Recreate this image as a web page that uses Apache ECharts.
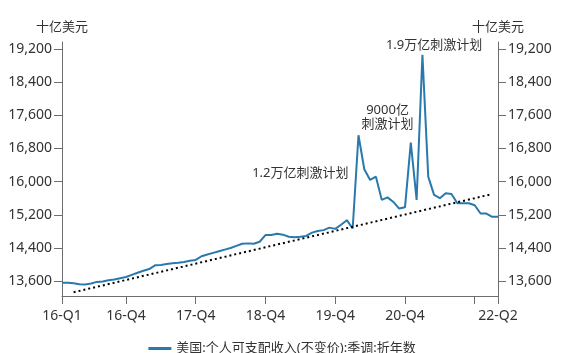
<!DOCTYPE html>
<html>
  <head>
    <meta http-equiv="Content-Type" content="text/html; charset=UTF-8">
    <title></title>
	<style type="text/css">
		* {margin: 0; padding: 0;}
	</style>
  </head>
  <body>
	<div id="chart" style="width:564px;height:353px"></div>

	<script src="https://cdn.jsdelivr.net/npm/echarts@6/dist/echarts.min.js" charset="utf-8"></script>
	<script type="text/javascript">
		// 月度数据 2016-01 ~ 2022-04
		var months = [];
		for (var y = 2016; y <= 2022; y++) {
			for (var m = 1; m <= 12; m++) {
				if (y == 2022 && m > 4) break;
				months.push(y + '-' + (m < 10 ? '0' + m : m));
			}
		}

		var seriesName = '美国:个人可支配收入(不变价):季调:折年数';
		var income = [
			13560, 13560, 13550, 13525, 13520, 13540, 13580, 13590, 13620, 13640, 13670, 13700,
			13750, 13800, 13850, 13890, 13980, 13990, 14010, 14030, 14040, 14060, 14090, 14110,
			14200, 14240, 14280, 14320, 14360, 14400, 14450, 14500, 14510, 14500, 14550, 14710,
			14710, 14740, 14720, 14670, 14660, 14670, 14690, 14770, 14810, 14830, 14890, 14860,
			14960, 15070, 14870, 17120, 16300, 16040, 16120, 15560, 15620, 15510, 15350, 15380,
			16940, 15560, 19060, 16120, 15680, 15600, 15720, 15700, 15480, 15480, 15480, 15430,
			15230, 15230, 15150, 15150
		];

		// 趋势线 两端
		var trendIdx = [2, 74];
		var trendVals = [13330, 15700];

		// x轴刻度
		var tickIdx = [0, 11, 23, 35, 47, 59, 71, 75];
		var tickText = ['16-Q1', '16-Q4', '17-Q4', '18-Q4', '19-Q4', '20-Q4', '', '22-Q2'];

		// y轴刻度
		var yTicks = [13600, 14400, 15200, 16000, 16800, 17600, 18400, 19200];

		// 标注
		var noteIdx = [41, 56, 64];
		var noteVal = [16210, 17550, 19300];
		var noteText = ['1.2万亿刺激计划', '9000亿\n刺激计划', '1.9万亿刺激计划'];

		var trend = [];
		for (var i = 0; i < months.length; i++) trend.push(null);
		trend[trendIdx[0]] = trendVals[0];
		trend[trendIdx[1]] = trendVals[1];

		var notes = [];
		for (var i = 0; i < noteIdx.length; i++) {
			notes.push({coord: [months[noteIdx[i]], noteVal[i]], value: noteText[i]});
		}

		var font = "'Noto Sans', 'Noto Sans CJK SC', sans-serif";
		var textColor = '#333';
		var axisColor = '#6e6e6e';

		function fmt(v) {
			return String(v).replace(/\B(?=(\d{3})+(?!\d))/g, ',');
		}

		function yAxisCfg(pos) {
			return {
				type: 'value',
				position: pos,
				name: '十亿美元',
				nameLocation: 'end',
				nameGap: 8,
				nameTextStyle: {color: textColor, fontSize: 13, fontFamily: font},
				min: 13240,
				max: 19370,
				splitLine: {show: false},
				axisLine: {show: true, lineStyle: {color: axisColor}},
				axisTick: {show: true, length: 8, customValues: yTicks, lineStyle: {color: axisColor}},
				axisLabel: {
					customValues: yTicks,
					margin: 10,
					color: textColor,
					fontSize: 14,
					fontFamily: font,
					formatter: fmt
				}
			};
		}

		function showTick(index) {
			return tickIdx.indexOf(index) >= 0;
		}

		var chart = echarts.init(document.getElementById('chart'));
		var option = {
			animation: false,
			textStyle: {fontFamily: font},
			grid: {left: 62, right: 66, top: 42, bottom: 57, containLabel: false},
			legend: {
				data: [seriesName],
				top: 337,
				left: 'center',
				icon: 'rect',
				itemWidth: 23,
				itemHeight: 3,
				textStyle: {color: textColor, fontSize: 13, fontFamily: font}
			},
			xAxis: {
				type: 'category',
				data: months,
				boundaryGap: false,
				axisLine: {lineStyle: {color: axisColor}},
				axisTick: {show: true, length: 8, interval: showTick, lineStyle: {color: axisColor}},
				axisLabel: {
					interval: showTick,
					margin: 13,
					color: textColor,
					fontSize: 14,
					fontFamily: font,
					formatter: function (v, idx) {
						var k = tickIdx.indexOf(idx);
						return k >= 0 ? tickText[k] : '';
					}
				}
			},
			yAxis: [yAxisCfg('left'), yAxisCfg('right')],
			series: [
				{
					name: seriesName,
					type: 'line',
					data: income,
					symbol: 'none',
					showSymbol: false,
					lineStyle: {color: '#2a79ac', width: 2},
					itemStyle: {color: '#2a79ac'},
					markPoint: {
						symbol: 'circle',
						symbolSize: 1,
						itemStyle: {color: 'rgba(0,0,0,0)'},
						label: {
							show: true,
							position: 'inside',
							color: textColor,
							fontSize: 13,
							lineHeight: 14,
							fontFamily: font,
							formatter: '{c}'
						},
						data: notes
					}
				},
				{
					name: 'trend',
					type: 'line',
					data: trend,
					connectNulls: true,
					symbol: 'none',
					showSymbol: false,
					lineStyle: {color: '#000', width: 2, type: [2, 3]},
					silent: true
				}
			]
		};
		chart.setOption(option);
	</script>
  </body>
</html>
